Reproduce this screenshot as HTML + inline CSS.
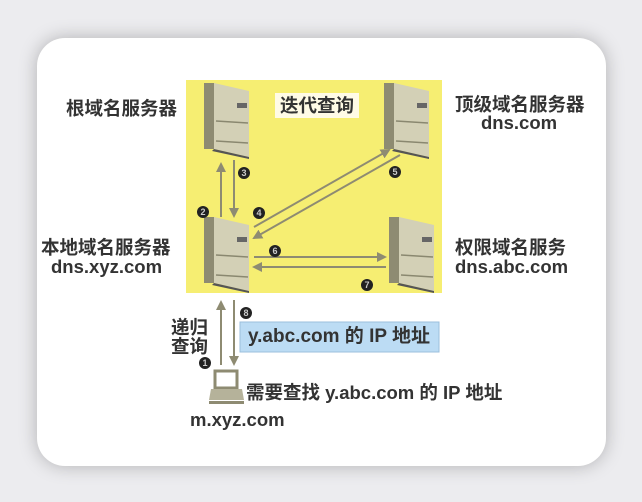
<!DOCTYPE html>
<html><head><meta charset="utf-8"><style>
body{margin:0;width:642px;height:502px;background:#ececef;overflow:hidden;position:relative;font-family:"Liberation Sans","Noto Sans CJK SC",sans-serif;font-weight:bold;color:#333}
.card{position:absolute;left:37px;top:38px;width:569px;height:428px;background:#fff;border-radius:28px;box-shadow:0 0 18px rgba(0,0,0,.25)}
.t{position:absolute;font-size:18.5px;line-height:19px;white-space:nowrap}
</style></head><body>
<div class="card"></div>
<svg style="position:absolute;left:0;top:0" width="642" height="502">
<defs>
<g id="srv">
<polygon points="10,0 45,8 45,74 10,66" fill="#d3d0b6"/>
<polygon points="0,0 10,0 10,66 0,66" fill="#8e8b72"/>
<polygon points="10,66 45,74 45,76 8,68" fill="#555"/>
<rect x="33" y="20" width="10" height="5" fill="#666"/>
<line x1="12" y1="38" x2="44" y2="40" stroke="#8a8870" stroke-width="1.5"/>
<line x1="12" y1="58" x2="44" y2="60" stroke="#8a8870" stroke-width="1.5"/>
</g>
<marker id="a" markerWidth="5" markerHeight="5" refX="4" refY="2.5" orient="auto"><path d="M0,0 L5,2.5 L0,5z" fill="#8e8b72"/></marker>
</defs>
<rect x="186" y="80" width="256" height="213" fill="#f6ee72"/>
<rect x="275" y="93" width="84" height="25" fill="#fffbe6"/>
<use href="#srv" x="204" y="83"/>
<use href="#srv" x="384" y="83"/>
<use href="#srv" x="204" y="217"/>
<use href="#srv" x="389" y="217"/>
<g stroke="#8e8b72" stroke-width="2" fill="none">
<line x1="221" y1="217" x2="221" y2="164" marker-end="url(#a)"/>
<line x1="234" y1="160" x2="234" y2="216" marker-end="url(#a)"/>
<line x1="254" y1="227" x2="389" y2="150" marker-end="url(#a)"/>
<line x1="400" y1="155" x2="254" y2="238" marker-end="url(#a)"/>
<line x1="254" y1="257" x2="385" y2="257" marker-end="url(#a)"/>
<line x1="386" y1="267" x2="254" y2="267" marker-end="url(#a)"/>
<line x1="221" y1="365" x2="221" y2="302" marker-end="url(#a)"/>
<line x1="234" y1="300" x2="234" y2="364" marker-end="url(#a)"/>
</g>
<rect x="240" y="322" width="199" height="30" fill="#bcdcf4" stroke="#9bbfdc"/>
<g fill="#222" font-size="9" font-family="Liberation Sans" text-anchor="middle">
<circle cx="244" cy="173" r="6"/><text x="244" y="176" fill="#ccc">3</text>
<circle cx="203" cy="212" r="6"/><text x="203" y="215" fill="#ccc">2</text>
<circle cx="259" cy="213" r="6"/><text x="259" y="216" fill="#ccc">4</text>
<circle cx="395" cy="172" r="6"/><text x="395" y="175" fill="#ccc">5</text>
<circle cx="275" cy="251" r="6"/><text x="275" y="254" fill="#ccc">6</text>
<circle cx="367" cy="285" r="6"/><text x="367" y="288" fill="#ccc">7</text>
<circle cx="246" cy="313" r="6"/><text x="246" y="316" fill="#ccc">8</text>
<circle cx="205" cy="363" r="6"/><text x="205" y="366" fill="#ccc">1</text>
</g>
<rect x="215" y="371" width="22" height="17" fill="#fff" stroke="#8e8b72" stroke-width="3"/>
<polygon points="211,389 242,389 244,400 209,400" fill="#b5b29a"/>
<rect x="209" y="401" width="35" height="3" fill="#8e8b72"/>
</svg>
<div class="t" style="left:280px;top:96px">迭代查询</div>
<div class="t" style="left:66px;top:99px">根域名服务器</div>
<div class="t" style="left:455px;top:95px">顶级域名服务器</div>
<div class="t" style="left:481px;top:113px">dns.com</div>
<div class="t" style="left:41px;top:238px">本地域名服务器</div>
<div class="t" style="left:51px;top:257px">dns.xyz.com</div>
<div class="t" style="left:455px;top:238px">权限域名服务</div>
<div class="t" style="left:455px;top:257px">dns.abc.com</div>
<div class="t" style="left:248px;top:327px;font-size:19px">y.abc.com 的 IP 地址</div>
<div class="t" style="left:171px;top:318px">递归</div>
<div class="t" style="left:171px;top:337px">查询</div>
<div class="t" style="left:246px;top:383px">需要查找 y.abc.com 的 IP 地址</div>
<div class="t" style="left:190px;top:410px">m.xyz.com</div>
</body></html>
